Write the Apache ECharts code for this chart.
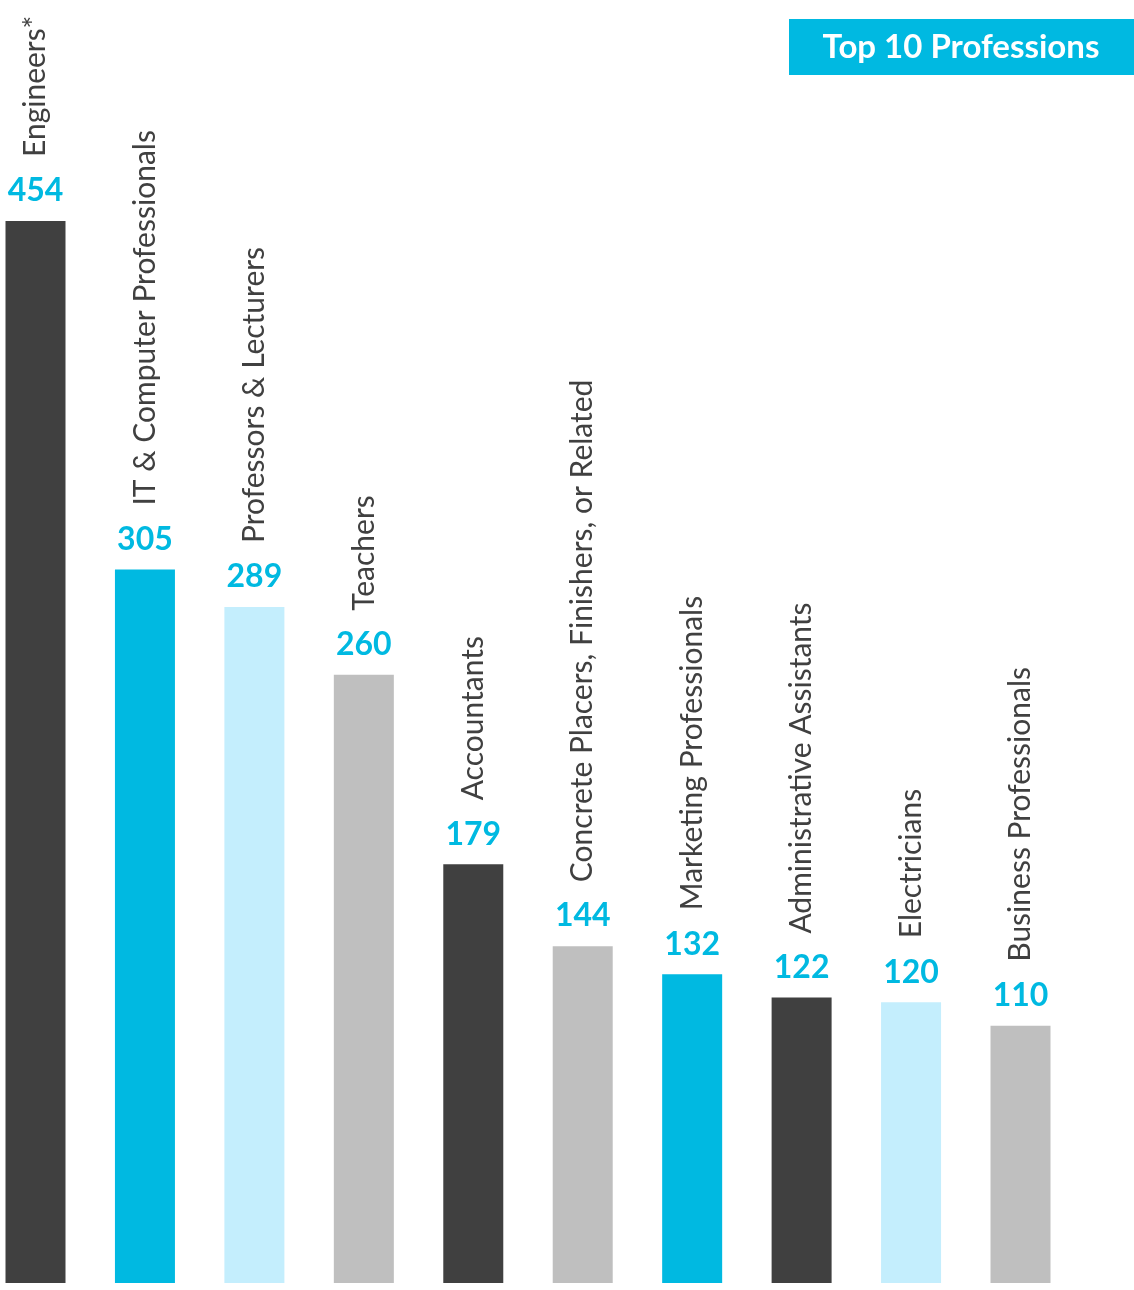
<!DOCTYPE html>
<html>
<head>
<meta charset="utf-8">
<style>
  html, body { margin: 0; padding: 0; background: #ffffff; }
  #chart { width: 1134px; height: 1290px; }
</style>
<script src="https://cdn.jsdelivr.net/npm/echarts@6/dist/echarts.min.js"></script>
</head>
<body>
<div id="chart"></div>
<script>
const categories = [
  'Engineers*',
  'IT & Computer Professionals',
  'Professors & Lecturers',
  'Teachers',
  'Accountants',
  'Concrete Placers, Finishers, or Related',
  'Marketing Professionals',
  'Administrative Assistants',
  'Electricians',
  'Business Professionals'
];
const counts = [454, 305, 289, 260, 179, 144, 132, 122, 120, 110];
const titleText = 'Top 10 Professions';

const DARK = '#404040', CYAN = '#00B9E1', LIGHT = '#C4EEFD', GRAY = '#BFBFBF';
const barColors = [DARK, CYAN, LIGHT, GRAY, DARK, GRAY, CYAN, DARK, LIGHT, GRAY];
const FONT = 'Lato, "Noto Sans", sans-serif';

const chart = echarts.init(document.getElementById('chart'));
chart.setOption({
  animation: false,
  backgroundColor: '#ffffff',
  grid: { left: 35.5, right: 113.5, top: 221, bottom: 7, containLabel: false },
  xAxis: {
    type: 'category',
    data: categories,
    boundaryGap: false,
    show: false
  },
  yAxis: {
    type: 'value',
    min: 0,
    max: Math.max(...counts),
    show: false,
    splitLine: { show: false }
  },
  graphic: [
    {
      type: 'rect',
      shape: { x: 789, y: 19, width: 345, height: 56 },
      style: { fill: CYAN }
    },
    {
      type: 'text',
      x: 961,
      y: 47,
      style: {
        text: titleText,
        fill: '#ffffff',
        font: 'bold 33px ' + FONT,
        textAlign: 'center',
        textVerticalAlign: 'middle'
      }
    }
  ],
  series: [
    {
      type: 'bar',
      data: counts.map((v, i) => ({ value: v, itemStyle: { color: barColors[i] } })),
      barWidth: 60,
      clip: false,
      label: {
        show: true,
        position: 'top',
        distance: 14,
        color: CYAN,
        fontFamily: FONT,
        fontWeight: 'bold',
        fontSize: 32
      }
    },
    {
      type: 'bar',
      data: counts,
      barWidth: 60,
      barGap: '-100%',
      clip: false,
      itemStyle: { color: 'rgba(0,0,0,0)' },
      silent: true,
      label: {
        show: true,
        position: 'top',
        distance: 64,
        rotate: 90,
        align: 'left',
        verticalAlign: 'middle',
        formatter: '{b}',
        color: '#404040',
        fontFamily: FONT,
        fontWeight: 'normal',
        fontSize: 30
      }
    }
  ]
});
</script>
</body>
</html>
